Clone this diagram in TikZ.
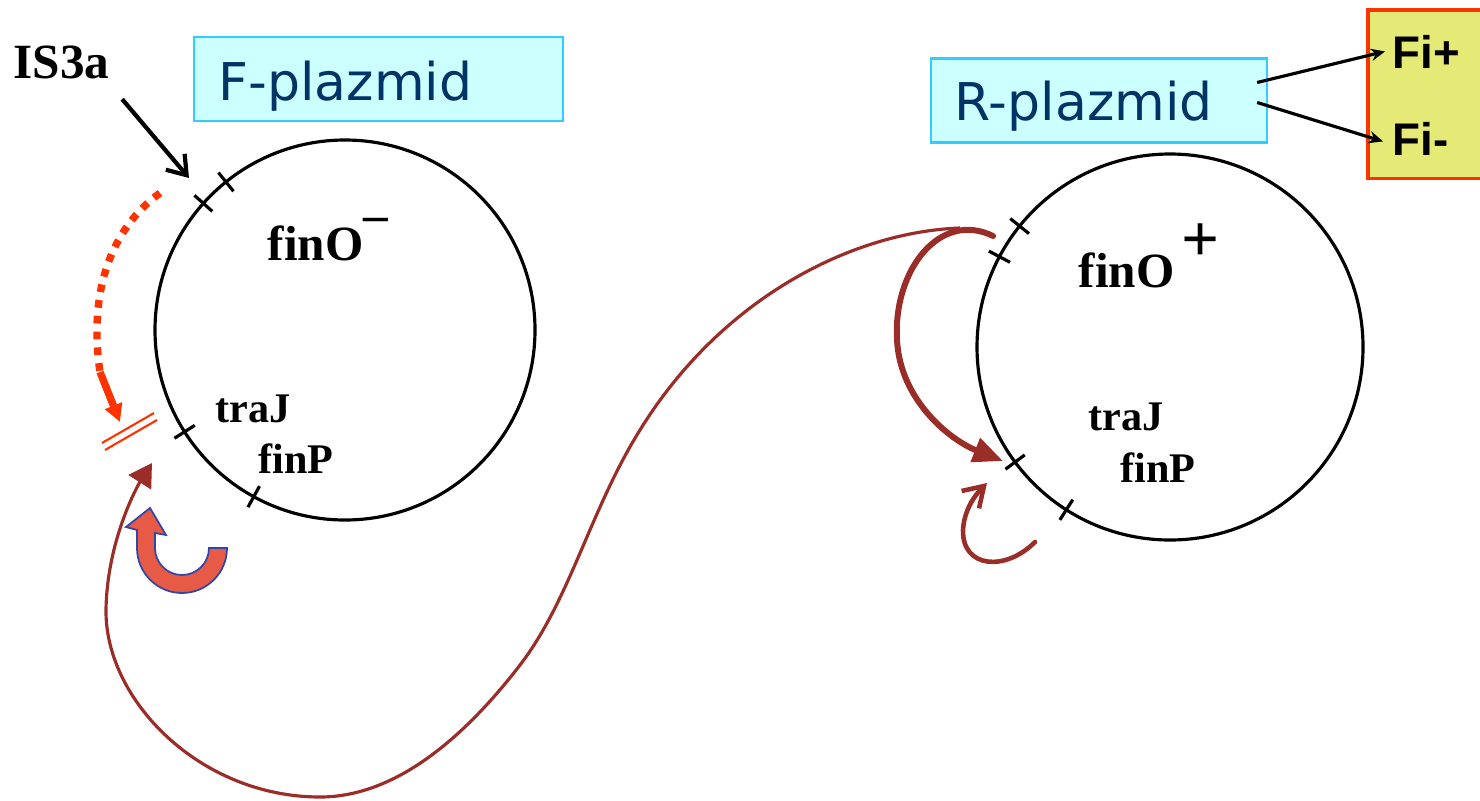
\documentclass[tikz,border=0pt]{standalone}
\usepackage{fontspec}
\setmainfont{Liberation Serif}
\newfontfamily\vfont{DejaVu Sans}
\newfontfamily\afont{Liberation Sans}
\usepackage{tikz}
\usetikzlibrary{positioning,arrows.meta,calc}
\definecolor{boxcyan}{RGB}{204,255,255}
\definecolor{boxedge}{RGB}{51,204,255}
\definecolor{navy}{RGB}{0,51,102}
\definecolor{fiyellow}{RGB}{229,234,119}
\definecolor{fiedge}{RGB}{255,51,0}
\definecolor{brn}{RGB}{155,45,40}
\definecolor{redo}{RGB}{255,51,0}
\definecolor{curlred}{RGB}{230,90,70}
\definecolor{curledge}{RGB}{50,70,170}

\begin{document}
\begin{tikzpicture}[x=0.01cm,y=-0.01cm,
  plaz/.style={draw=boxedge,line width=0.6pt,fill=boxcyan,minimum width=#1,minimum height=0.84cm,inner sep=0},
  plazlbl/.style={anchor=base west,inner sep=0,text=navy,font=\vfont\fontsize{14.8}{16}\selectfont},
  gene/.style={anchor=base west,inner sep=0,font=\bfseries\fontsize{12}{13}\selectfont},
  fin/.style={anchor=base west,inner sep=0,font=\bfseries\fontsize{14}{15}\selectfont},
  filbl/.style={anchor=base west,inner sep=0,font=\afont\bfseries\fontsize{13}{14}\selectfont},
  ring/.style={line width=0.9pt}]
\useasboundingbox (0,0) rectangle (1480,800);

% F-plazmid ring
\coordinate (lc) at (345,330);
\draw[ring] (lc) circle[radius=190];
\foreach \a in {-128.8,-138.2,147.6,118.7}
  \draw[ring] ($(lc)+(\a:178)$) -- ($(lc)+(\a:202)$);
\node[plaz=3.69cm] (fbox) at (378.5,79) {};
\node[plazlbl] (flbl) at (218,100) {F-plazmid};
\node[fin] (lfino) at (267,260) {finO\raisebox{8pt}{--}};
\node[gene] (ltraj) at (215,422) {traJ};
\node[gene] (lfinp) at (258,473) {finP};

% IS3a insertion
\node[fin] (is3a) at (13,78) {IS3a};
\coordinate (istip) at (189,178);
\draw[line width=1.2pt,-{Straight Barb[length=5pt,width=7pt]}] ([shift={(12,20)}]is3a.south east) -- (istip);

% blocked finO (red)
\coordinate (dotA) at (160,193);
\coordinate (dotB) at (100,372);
\coordinate (dotC) at (120,422);
\draw[redo,line width=2.1pt,dash pattern=on 2.2pt off 2.3pt] (dotA) .. controls (112,228) and (88,290) .. (dotB);
\draw[redo,line width=2.1pt,-{Triangle[length=5pt,width=5pt]}] (dotB) -- (dotC);
\draw[redo,line width=0.6pt] (102,443) -- (154,413);
\draw[redo,line width=0.6pt] (105,450) -- (157,420);

% curly arrow
\filldraw[fill=curlred,draw=curledge,line width=0.5pt] (227,548) arc[start angle=0,end angle=180,radius=45]
  -- (137,530) -- (126,527) -- (150,508) -- (166,535) -- (155,533) -- (155,548)
  arc[start angle=180,end angle=0,radius=27] -- cycle;

% R-plazmid ring
\coordinate (rc) at (1170,347);
\draw[ring] (rc) circle[radius=193];
\foreach \a in {-141.2,-152.1,143.4,122.5}
  \draw[ring] ($(rc)+(\a:181)$) -- ($(rc)+(\a:205)$);
\node[plaz=3.36cm] (rbox) at (1099,100.5) {};
\node[plazlbl] (rlbl) at (954,120) {R-plazmid};
\node[fin] (rfino) at (1078,287) {finO\kern2pt\raisebox{7.2pt}{\fontsize{19}{19}\selectfont +}};
\node[gene] (rtraj) at (1088,430) {traJ};
\node[gene] (rfinp) at (1120,482) {finP};

% Fi box (runs off the right edge)
\node[fill=fiyellow,anchor=north west,minimum width=1.3cm,minimum height=1.67cm,inner sep=0] (fibox) at (1368,10) {};
\draw[fiedge,line width=1pt] (fibox.north east) -- (fibox.north west) -- (fibox.south west) -- (fibox.south east);
\node[filbl] (fip) at (1392,68) {Fi+};
\node[filbl] (fim) at (1392,155) {Fi-};
\draw[line width=0.9pt,-{Stealth[length=4pt,width=3.5pt]}] ([shift={(-11,-18)}]rbox.east) -- ([shift={(-7,0)}]fip.west);
\draw[line width=0.9pt,-{Stealth[length=4pt,width=3.5pt]}] ([shift={(-11,2)}]rbox.east) -- ([shift={(-9,3)}]fim.west);

% transfer curves (brown)
\coordinate (ltip) at (152,463);
\coordinate (rtip) at (1003,461);
\coordinate (stip) at (987,483);
\draw[brn,line width=0.9pt,-{Triangle[length=6.5pt,width=7.5pt]}] (960,228)
  .. controls (850,232) and (720,300) .. (640,430)
  .. controls (590,510) and (570,600) .. (520,665)
  .. controls (470,730) and (400,797) .. (320,797)
  .. controls (200,797) and (105,700) .. (106,610)
  .. controls (107,540) and (138,485) .. (ltip);
\draw[brn,line width=1.7pt,line cap=round,-{Triangle[length=8.5pt,width=7pt]}] (993,236) .. controls (940,210) and (893,270) .. (897,340) .. controls (900,400) and (950,440) .. (rtip);
\draw[brn,line width=1.3pt,line cap=round,-{Straight Barb[length=5.5pt,width=7pt]}] (1035,542) .. controls (1005,572) and (962,568) .. (963,530) .. controls (964,510) and (975,495) .. (stip);
\end{tikzpicture}
\end{document}
